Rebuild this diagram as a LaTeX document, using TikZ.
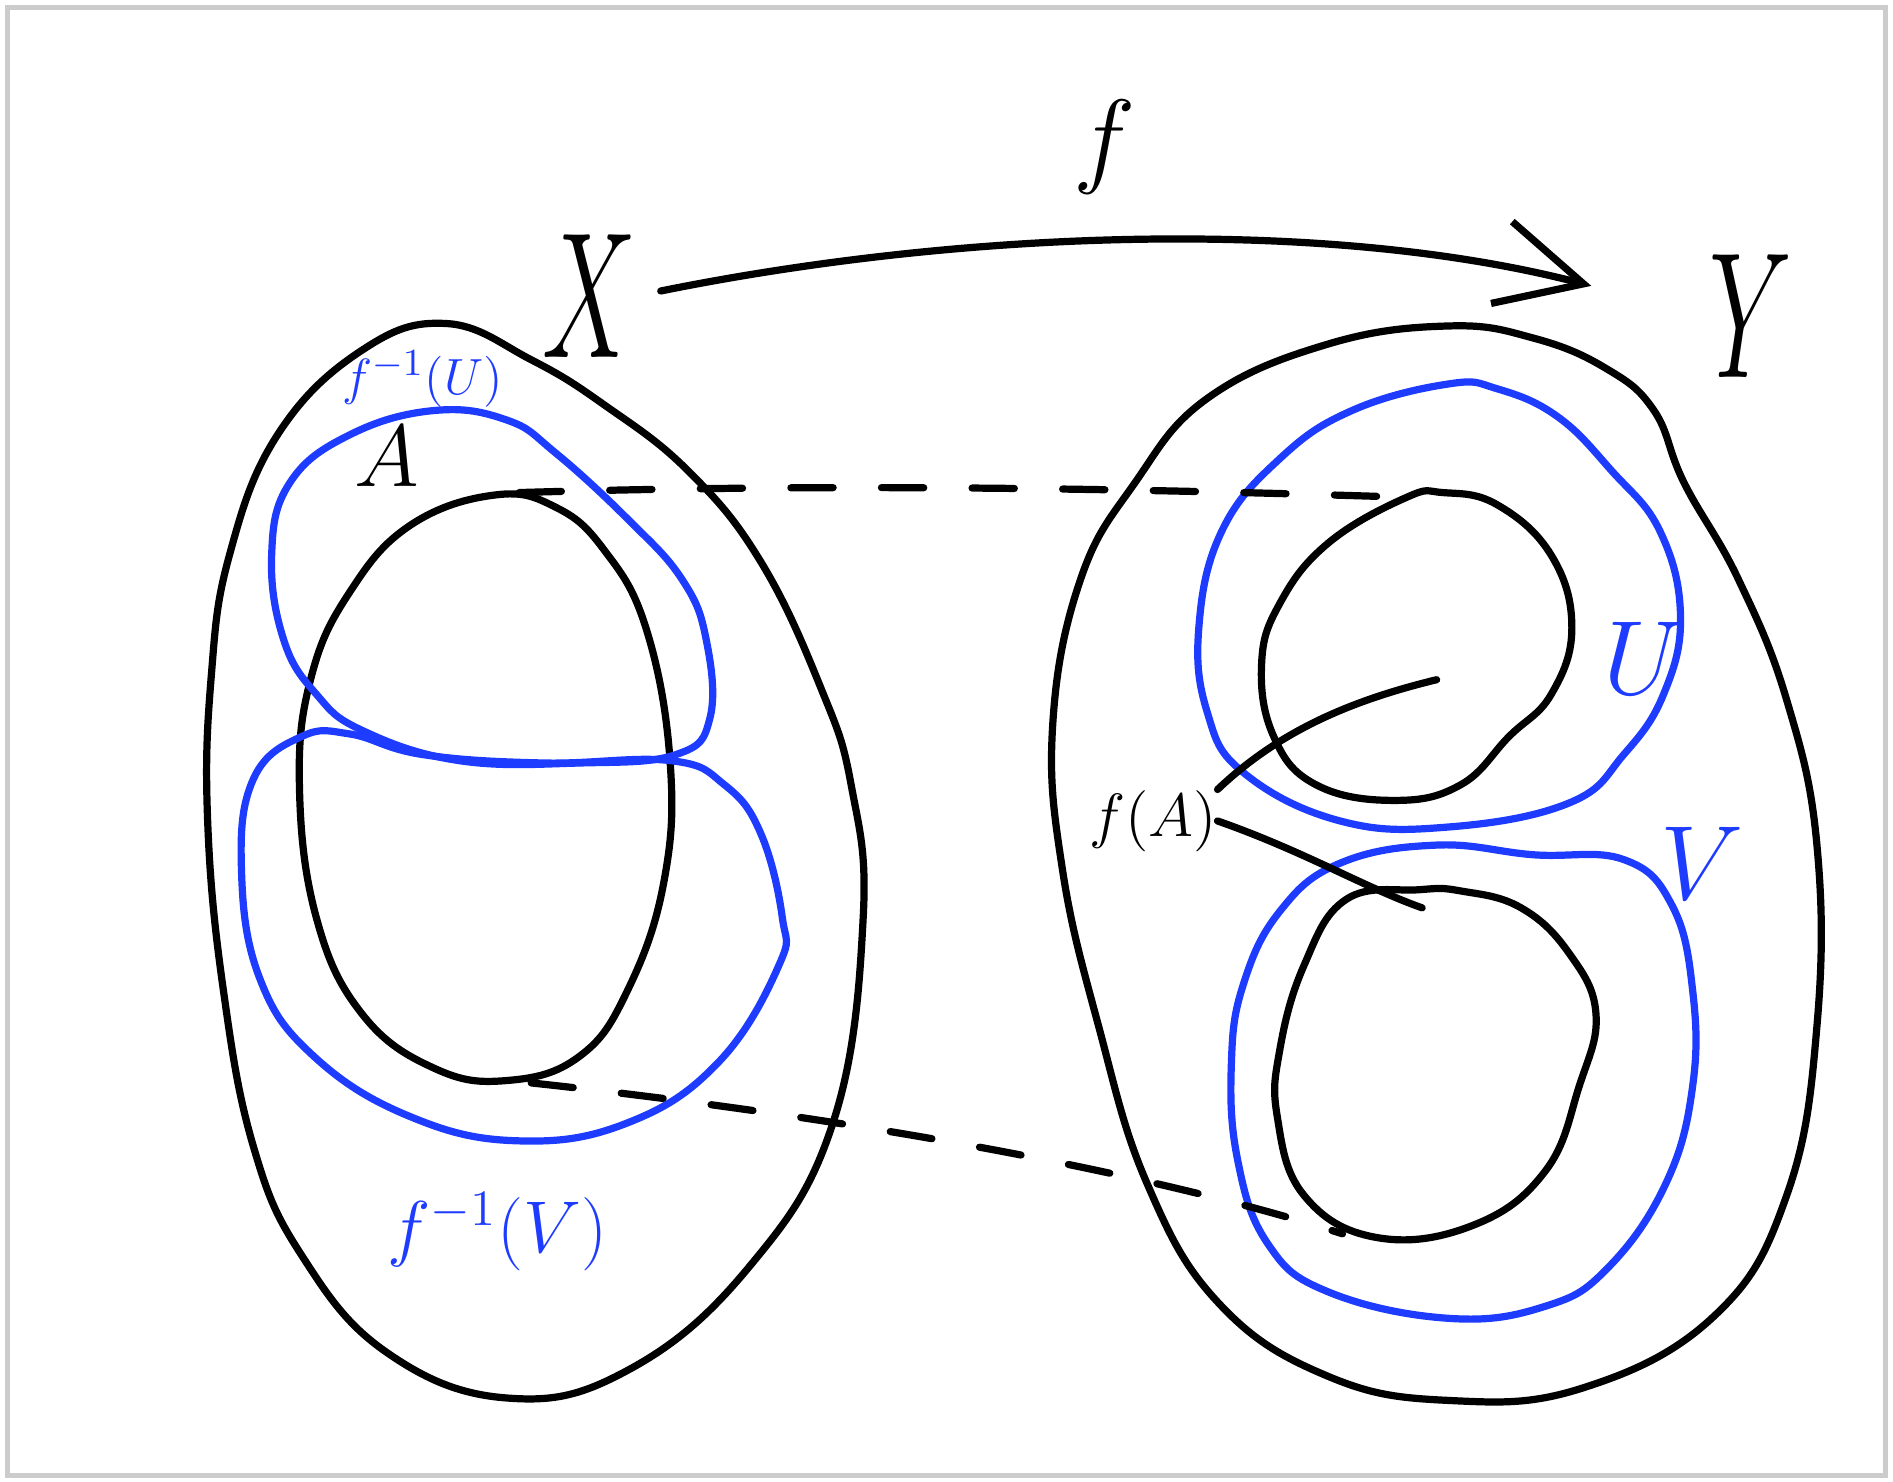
\documentclass[tikz,border=0pt]{standalone}
\usepackage{xcolor}
\usepackage{tikz}
\usetikzlibrary{positioning, arrows.meta}
\definecolor{penblue}{HTML}{1E3CFF}
\definecolor{framegray}{HTML}{CCCCCC}

\tikzset{
  pen/.style={line width=1.7pt, line cap=round, line join=round},
  bluepen/.style={pen, draw=penblue},
  guide/.style={pen, dash pattern=on 3.5mm off 4mm},
  lbl/.style={inner sep=0pt},
}

\begin{document}
\begin{tikzpicture}[x=0.01cm, y=-0.01cm]
    \useasboundingbox (0,0) rectangle (1568,1227);
    \draw[framegray, line width=1.2pt] (6,6) rectangle (1562,1222);

    % the two spaces
    \draw[pen] plot[smooth cycle, tension=0.7] coordinates {(370,268) (300,290) (230,360) (190,460) (175,560) (172,680) (185,820) (210,950) (250,1040) (320,1120) (420,1158) (520,1135) (620,1050) (690,930) (715,760) (705,650) (680,570) (630,465) (570,390) (500,335) (440,298)};
    \draw[pen] plot[smooth cycle, tension=0.7] coordinates {(1200,270) (1100,285) (1000,330) (940,400) (895,480) (872,600) (880,720) (910,850) (950,980) (1010,1080) (1100,1140) (1200,1160) (1310,1150) (1420,1090) (1480,990) (1505,850) (1505,700) (1480,580) (1440,480) (1395,400) (1370,340) (1330,305) (1270,280)};

    % A and its image
    \draw[pen] plot[smooth cycle, tension=0.7] coordinates {(410,410) (340,435) (290,490) (258,560) (248,650) (262,760) (300,840) (360,885) (420,895) (480,875) (520,820) (550,730) (555,630) (535,520) (500,455) (460,420)};
    \draw[pen] plot[smooth cycle, tension=0.7] coordinates {(1165,412) (1100,450) (1060,500) (1045,550) (1055,610) (1090,650) (1155,663) (1210,650) (1250,610) (1285,575) (1302,520) (1285,460) (1240,418) (1195,408)};
    \draw[pen] plot[smooth cycle, tension=0.7] coordinates {(1175,737) (1115,745) (1080,800) (1060,870) (1058,925) (1080,990) (1140,1025) (1220,1015) (1280,970) (1308,900) (1322,840) (1300,790) (1260,752) (1210,738)};

    % open sets U, V and preimages
    \draw[bluepen] plot[smooth cycle, tension=0.7] coordinates {(360,340) (290,360) (240,400) (225,460) (235,530) (262,575) (300,605) (380,630) (480,632) (560,625) (588,595) (585,530) (565,480) (520,430) (460,375) (420,348)};
    \draw[bluepen] plot[smooth cycle, tension=0.7] coordinates {(250,610) (210,645) (200,720) (215,810) (260,875) (340,925) (430,945) (520,930) (595,880) (645,800) (648,760) (630,690) (600,650) (555,630) (450,632) (350,625) (290,608)};
    \draw[bluepen] plot[smooth cycle, tension=0.7] coordinates {(1200,318) (1120,340) (1060,380) (1012,440) (993,520) (1000,590) (1030,640) (1110,680) (1200,685) (1300,665) (1345,625) (1378,575) (1392,510) (1375,440) (1335,390) (1290,345) (1240,322)};
    \draw[bluepen] plot[smooth cycle, tension=0.7] coordinates {(1110,715) (1060,755) (1030,815) (1020,880) (1025,960) (1050,1030) (1100,1070) (1200,1092) (1280,1082) (1332,1050) (1380,980) (1402,900) (1402,820) (1385,750) (1345,712) (1270,708) (1190,700)};

    \coordinate (aTop) at (430,408);
    \coordinate (aBot) at (440,897);
    \coordinate (ftTop) at (1168,412);
    \coordinate (fbBot) at (1112,1022);
    \coordinate (ftIn) at (1190,563);
    \coordinate (fbIn) at (1178,752);

    % labels
    \node[lbl, font=\fontsize{50}{50}\selectfont] (X) at (488,245) {\scalebox{1}[1.7]{$X$}};
    \node[lbl, font=\fontsize{50}{50}\selectfont] (Y) at (1450,262) {\scalebox{1}[1.7]{$Y$}};
    \node[lbl, font=\fontsize{44}{44}\selectfont] (f) at (915,122) {$f$};
    \node[lbl, font=\fontsize{22}{22}\selectfont] (A) at (320,378) {$A$};
    \node[lbl, font=\fontsize{13}{13}\selectfont, text=penblue] (preU) at (350,314) {$f^{-1}(U)$};
    \node[lbl, font=\fontsize{18}{18}\selectfont, text=penblue] (preV) at (412,1020) {$f^{-1}(V)$};
    \node[lbl, font=\fontsize{24}{24}\selectfont, text=penblue] (U) at (1362,545) {$U$};
    \node[lbl, font=\fontsize{26}{26}\selectfont, text=penblue] (V) at (1410,715) {$V$};
    \node[lbl, font=\fontsize{15}{15}\selectfont] (fA) at (955,680) {$f(A)$};

    % the map
    \draw[pen, -{Straight Barb[length=7mm, width=7mm]}, shorten <=0.2cm, shorten >=1cm]
      (X.east) .. controls (800,190) and (1100,180) .. (Y.west);

    \draw[guide] (aTop) .. controls (700,400) and (950,405) .. (ftTop);
    \draw[guide] (aBot) .. controls (700,925) and (950,970) .. (fbBot);

    \draw[pen] (fA.north east) .. controls (1060,605) and (1120,580) .. (ftIn);
    \draw[pen] (fA.east) .. controls (1080,705) and (1130,735) .. (fbIn);
\end{tikzpicture}
\end{document}
